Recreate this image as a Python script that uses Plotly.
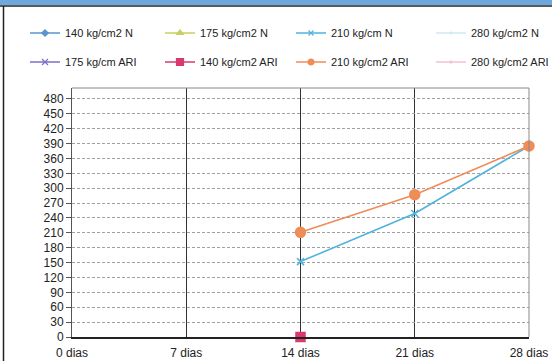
import plotly.graph_objects as go

day_labels = ["0 dias", "7 dias", "14 dias", "21 dias", "28 dias"]
day_values = [0, 7, 14, 21, 28]
y_ticks = list(range(0, 481, 30))

s_140N = [None, None, None, None, None]
s_175N = [None, None, None, None, None]
s_210N = [None, None, 152, 249, 385]
s_280N = [None, None, None, None, None]
s_175ARI = [None, None, None, None, None]
s_140ARI = [None, None, 0, None, None]
s_210ARI = [None, None, 211, 287, 385]
s_280ARI = [None, None, None, None, None]

# name, values, color, symbol, plot marker size, legend marker size
series = [
    ("140 kg/cm2 N", s_140N, "#5a94cc", "diamond", 5, 5),
    ("175 kg/cm2 N", s_175N, "#c9cf62", "triangle-up", 6, 6),
    ("210 kg/cm N", s_210N, "#4fb3dc", "x-thin-open", 7, 5),
    ("280 kg/cm2 N", s_280N, "#cfe9f2", "circle", 1, 1),
    ("175 kg/cm ARI", s_175ARI, "#7b6fc6", "x-thin-open", 6, 6),
    ("140 kg/cm2 ARI", s_140ARI, "#d93a6e", "square", 9, 7),
    ("210 kg/cm2 ARI", s_210ARI, "#ef8c57", "circle", 10, 6),
    ("280 kg/cm2 ARI", s_280ARI, "#f2c0d6", "circle", 1, 1),
]

L, R, T, B = 72, 23, 88, 24
W, H = 552, 361
pw, ph = W - L - R, H - T - B

def px(xp):
    return (xp - L) / pw

def py(yp):
    return (H - B - yp) / ph

font = dict(family="Liberation Sans, Arial, sans-serif", size=11, color="#222")
tickfont = dict(family="Liberation Sans, Arial, sans-serif", size=12, color="#222")

text_x = [65, 200, 331, 471, 65, 200, 331, 471]
row_y = [33, 33, 33, 33, 62, 62, 62, 62]

fig = go.Figure()
legends = {}
for i, (name, vals, col, sym, sz, lsz) in enumerate(series):
    fig.add_trace(go.Scatter(
        x=day_values, y=vals, name=name, mode="lines+markers",
        line=dict(color=col, width=1.6),
        marker=dict(color=col, symbol=sym, size=sz, line=dict(color=col, width=1.5)),
        cliponaxis=False, connectgaps=True, showlegend=False,
    ))
for i, (name, vals, col, sym, sz, lsz) in enumerate(series):
    key = "legend" if i == 0 else f"legend{i + 1}"
    fig.add_trace(go.Scatter(
        x=[None], y=[None], name=name, mode="lines+markers",
        line=dict(color=col, width=1.4),
        marker=dict(color=col, symbol=sym, size=lsz, line=dict(color=col, width=1.2)),
        legend=key, showlegend=True, hoverinfo="skip",
    ))
    legends[key] = dict(orientation="h", x=px(text_x[i] - 40), y=py(row_y[i]),
                        xanchor="left", yanchor="middle", font=font,
                        bgcolor="rgba(0,0,0,0)", itemwidth=30)

fig.update_layout(
    width=W, height=H, showlegend=True,
    margin=dict(l=L, r=R, t=T, b=B, autoexpand=False),
    paper_bgcolor="white", plot_bgcolor="white",
    font=font,
    xaxis=dict(range=[0, 28], tickvals=day_values, ticktext=day_labels,
               showgrid=True, gridcolor="#333", gridwidth=1,
               showline=True, linecolor="#222", linewidth=1.5, mirror=False,
               ticks="", ticklabelstandoff=4, tickfont=tickfont,
               zeroline=False, fixedrange=True, automargin=False),
    yaxis=dict(range=[0, 502], tickvals=y_ticks,
               showgrid=True, gridcolor="#a0a0a0", griddash="3px,2px", gridwidth=1,
               showline=True, linecolor="#555", linewidth=1, mirror=False,
               ticks="outside", ticklen=5, tickcolor="#555", tickfont=tickfont,
               zeroline=False, fixedrange=True, automargin=False),
    shapes=[
        dict(type="line", xref="paper", yref="paper", x0=0, x1=1, y0=1, y1=1,
             line=dict(color="#888", width=1)),
        dict(type="line", xref="paper", yref="paper", x0=1, x1=1, y0=0, y1=1,
             line=dict(color="#888", width=1)),
        dict(type="rect", xref="paper", yref="paper", x0=px(0), x1=px(W), y0=py(0), y1=py(5),
             fillcolor="#6fa8dc", line=dict(width=0), layer="above"),
        dict(type="line", xref="paper", yref="paper", x0=px(0), x1=px(W), y0=py(6), y1=py(6),
             line=dict(color="#222", width=1.5)),
        dict(type="line", xref="paper", yref="paper", x0=px(3.5), x1=px(3.5), y0=py(6), y1=py(H),
             line=dict(color="#222", width=1.5)),
    ],
    **legends,
)

fig.write_html("out.html")
